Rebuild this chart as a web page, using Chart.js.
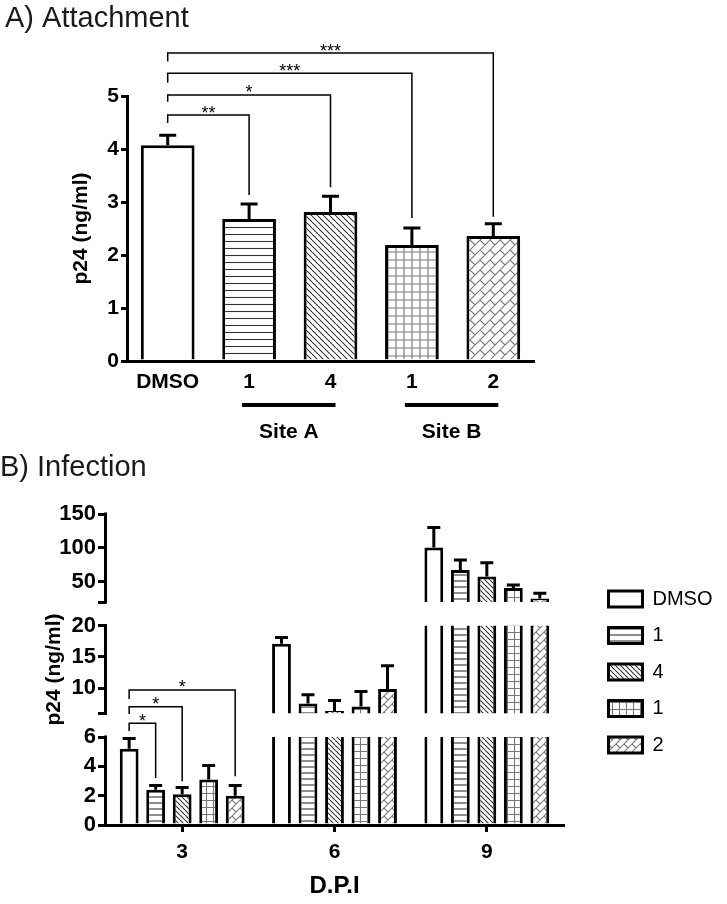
<!DOCTYPE html>
<html>
<head>
<meta charset="utf-8">
<script src="https://cdn.jsdelivr.net/npm/chart.js@4.4.0/dist/chart.umd.min.js"></script>
<style>
  html, body { margin: 0; padding: 0; background: #fff; }
  #caixaA { position: absolute; left: 0; top: 0; }
  #caixaB { position: absolute; left: 0; top: 440px; }
</style>
</head>
<body>
<div id="caixaA"><canvas id="graficoA" width="727" height="440"></canvas></div>
<div id="caixaB"><canvas id="graficoB" width="727" height="464"></canvas></div>
<script>
// dados do painel A (adesao)
const categoriasA = ['DMSO', '1', '4', '1', '2'];
const valoresA = [4.07, 2.68, 2.81, 2.19, 2.36];
const errosA = [0.19, 0.28, 0.30, 0.32, 0.23];
const ticksA = [0, 1, 2, 3, 4, 5];
const gruposA = [
  { texto: 'Site A', de: 1, ate: 2 },
  { texto: 'Site B', de: 3, ate: 4 }
];
// colchetes de significancia: nivel, inicio e fim em unidades do eixo y
const signifA = [
  { de: 0, ate: 1, rotulo: '**', inicio: 4.49, nivel: 4.64, fim: 3.13 },
  { de: 0, ate: 2, rotulo: '*', inicio: 4.89, nivel: 5.02, fim: 3.28 },
  { de: 0, ate: 3, rotulo: '***', inicio: 5.25, nivel: 5.43, fim: 2.70 },
  { de: 0, ate: 4, rotulo: '***', inicio: 5.65, nivel: 5.81, fim: 2.72 }
];

// dados do painel B (infeccao)
const diasB = ['3', '6', '9'];
const seriesB = ['DMSO', '1', '4', '1', '2'];
const dmsoB = [5.2, 17.1, 100.4];
const sitioA1B = [2.4, 7.6, 67.2];
const sitioA4B = [2.1, 6.4, 57.8];
const sitioB1B = [3.1, 7.1, 40.7];
const sitioB2B = [2.0, 9.9, 25.0];
const erroDmsoB = [0.7, 1.0, 29.5];
const erroSitioA1B = [0.3, 1.4, 14.7];
const erroSitioA4B = [0.45, 1.65, 20.2];
const erroSitioB1B = [0.95, 2.4, 4.4];
const erroSitioB2B = [0.7, 3.7, 7.8];
const ticksTopoB = [20, 50, 100, 150];
const ticksMeioB = [6, 10, 15, 20];
const ticksBaixoB = [0, 2, 4, 6];
const signifB = [
  { dia: 0, de: 0, ate: 1, rotulo: '*', inicio: 6.41, nivel: 6.94, fim: 3.21 },
  { dia: 0, de: 0, ate: 2, rotulo: '*', inicio: 7.56, nivel: 8.06, fim: 2.98 },
  { dia: 0, de: 0, ate: 4, rotulo: '*', inicio: 8.59, nivel: 9.21, fim: 3.32 }
];

const valoresB = [dmsoB, sitioA1B, sitioA4B, sitioB1B, sitioB2B];
const errosB = [erroDmsoB, erroSitioA1B, erroSitioA4B, erroSitioB1B, erroSitioB2B];

const fonte = "'Liberation Sans', Arial, Helvetica, sans-serif";
Chart.defaults.font.family = fonte;
Chart.defaults.color = '#000';

// eixo y quebrado em tres partes
const alturaSeg = 88, vao = 23.5;
const meiaFolga = (vao / 2) / alturaSeg;
const segmentosB = [
  { id: 'yTopo', min: 20, max: 150, ticks: ticksTopoB, semRotulo: 20 },
  { id: 'yMeio', min: 6, max: 20, ticks: ticksMeioB, semRotulo: 6 },
  { id: 'yBaixo', min: 0, max: 6, ticks: ticksBaixoB, semRotulo: null }
];

function criarPadrao(ctxAlvo, tipo, t, cor) {
  const c = document.createElement('canvas');
  c.width = t; c.height = t;
  const g = c.getContext('2d');
  g.fillStyle = '#fff';
  g.fillRect(0, 0, t, t);
  g.strokeStyle = cor;
  g.lineWidth = 1.1;
  g.beginPath();
  if (tipo === 'horizontal') {
    g.moveTo(0, t / 2); g.lineTo(t, t / 2);
  } else if (tipo === 'diagonal') {
    for (let k = -1; k <= 1; k++) { g.moveTo(k * t, 0); g.lineTo(k * t + t, t); }
  } else if (tipo === 'grade') {
    g.moveTo(0, t / 2); g.lineTo(t, t / 2);
    g.moveTo(t / 2, 0); g.lineTo(t / 2, t);
  } else if (tipo === 'tijolo') {
    g.save();
    g.rotate(-Math.PI / 4);
    const h = t / Math.SQRT2, l = 2 * h;
    for (let k = -4; k <= 4; k++) {
      g.moveTo(-4 * l, k * h); g.lineTo(4 * l, k * h);
      for (let j = -4; j <= 4; j++) {
        const u = j * l + (k % 2 ? l / 2 : 0);
        g.moveTo(u, k * h); g.lineTo(u, (k + 1) * h);
      }
    }
    g.restore();
  }
  g.stroke();
  return ctxAlvo.createPattern(c, 'repeat');
}

function desenharErro(ctx, x, y0, y1, cap) {
  ctx.beginPath();
  ctx.moveTo(x, y0); ctx.lineTo(x, y1);
  ctx.moveTo(x - cap / 2, y1); ctx.lineTo(x + cap / 2, y1);
  ctx.stroke();
}

function desenharColchete(ctx, xa, xb, yIni, yNiv, yFim, rotulo) {
  ctx.beginPath();
  ctx.moveTo(xa, yIni); ctx.lineTo(xa, yNiv); ctx.lineTo(xb, yNiv); ctx.lineTo(xb, yFim);
  ctx.stroke();
  ctx.fillText(rotulo, (xa + xb) / 2, yNiv + 3.5);
}

// ---------- painel A ----------
const ctxA = document.getElementById('graficoA').getContext('2d');
const padroesA = [
  '#fff',
  criarPadrao(ctxA, 'horizontal', 7, '#333'),
  criarPadrao(ctxA, 'diagonal', 6, '#333'),
  criarPadrao(ctxA, 'grade', 8, '#777'),
  criarPadrao(ctxA, 'tijolo', 10, '#777')
];

const extrasA = {
  id: 'extrasA',
  afterDatasetsDraw(chart) {
    const ctx = chart.ctx, y = chart.scales.y;
    ctx.save();
    ctx.strokeStyle = '#000';
    ctx.lineWidth = 3;
    chart.getDatasetMeta(0).data.forEach((barra, i) => {
      desenharErro(ctx, barra.x, y.getPixelForValue(valoresA[i]), y.getPixelForValue(valoresA[i] + errosA[i]), 17);
    });
    ctx.restore();
  },
  afterDraw(chart) {
    const ctx = chart.ctx, x = chart.scales.x, y = chart.scales.y;
    ctx.save();
    ctx.strokeStyle = '#000';
    ctx.fillStyle = '#000';
    ctx.lineWidth = 1.5;
    ctx.font = '18px ' + fonte;
    ctx.textAlign = 'center';
    ctx.textBaseline = 'alphabetic';
    signifA.forEach(s => {
      desenharColchete(ctx, x.getPixelForValue(s.de), x.getPixelForValue(s.ate),
        y.getPixelForValue(s.inicio), y.getPixelForValue(s.nivel), y.getPixelForValue(s.fim), s.rotulo);
    });
    // linhas dos grupos e nomes dos sitios
    const base = chart.chartArea.bottom;
    ctx.lineWidth = 4;
    ctx.font = 'bold 21px ' + fonte;
    ctx.textBaseline = 'middle';
    gruposA.forEach(g => {
      const xa = x.getPixelForValue(g.de) - 7, xb = x.getPixelForValue(g.ate) + 5;
      ctx.beginPath();
      ctx.moveTo(xa, base + 44); ctx.lineTo(xb, base + 44);
      ctx.stroke();
      ctx.fillText(g.texto, (xa + xb) / 2, base + 71);
    });
    ctx.restore();
  }
};

new Chart(ctxA, {
  type: 'bar',
  data: {
    labels: categoriasA,
    datasets: [{
      data: valoresA,
      backgroundColor: padroesA,
      borderColor: '#000',
      borderWidth: { top: 3, left: 3, right: 3, bottom: 0 },
      borderSkipped: false,
      barPercentage: 0.66,
      categoryPercentage: 1
    }]
  },
  options: {
    responsive: false,
    animation: false,
    events: [],
    layout: { padding: { left: 5, right: 193, top: 0, bottom: 0 } },
    plugins: {
      legend: { display: false },
      tooltip: { enabled: false },
      title: {
        display: true,
        text: 'A) Attachment',
        align: 'start',
        color: '#1a1a1a',
        font: { size: 29, weight: 'normal' },
        padding: { top: 2, bottom: 59.2 }
      }
    },
    scales: {
      x: {
        grid: { display: false, drawTicks: false },
        border: { display: true, color: '#000', width: 3 },
        ticks: { color: '#000', padding: 9, font: { size: 21, weight: 'bold' } },
        afterFit: (s) => { s.height = 79; }
      },
      y: {
        min: 0,
        max: 5,
        afterBuildTicks: (s) => { s.ticks = ticksA.map(v => ({ value: v })); },
        grid: { display: true, drawOnChartArea: false, drawTicks: true, tickLength: 6, lineWidth: 3, color: '#000' },
        border: { display: true, color: '#000', width: 3 },
        ticks: { color: '#000', padding: 2, font: { size: 21, weight: 'bold' } },
        title: {
          display: true,
          text: 'p24 (ng/ml)',
          color: '#000',
          font: { size: 21, weight: 'bold' },
          padding: { top: 64, bottom: 0 }
        },
        afterFit: (s) => { s.width = 122; }
      }
    }
  },
  plugins: [extrasA]
});

// ---------- painel B ----------
const ctxB = document.getElementById('graficoB').getContext('2d');
const padroesB = [
  '#fff',
  criarPadrao(ctxB, 'horizontal', 6, '#333'),
  criarPadrao(ctxB, 'diagonal', 5, '#333'),
  criarPadrao(ctxB, 'grade', 7, '#777'),
  criarPadrao(ctxB, 'tijolo', 8, '#777')
];

const conjuntosB = [];
segmentosB.forEach(seg => {
  valoresB.forEach((vals, s) => {
    conjuntosB.push({
      label: seriesB[s],
      data: vals.map(v => (v > seg.min ? [seg.min, Math.min(v, seg.max)] : null)),
      yAxisID: seg.id,
      stack: 'serie' + s,
      backgroundColor: padroesB[s],
      borderColor: '#000',
      borderWidth: (c) => ({ left: 3, right: 3, bottom: 0, top: vals[c.dataIndex] <= seg.max ? 3 : 0 }),
      borderSkipped: false,
      barPercentage: 0.71,
      categoryPercentage: 0.87
    });
  });
});

function segmentoDe(v) {
  return segmentosB.findIndex(seg => v > seg.min && v <= seg.max);
}

const extrasB = {
  id: 'extrasB',
  afterDatasetsDraw(chart) {
    const ctx = chart.ctx;
    ctx.save();
    ctx.strokeStyle = '#000';
    ctx.lineWidth = 3;
    valoresB.forEach((vals, s) => {
      vals.forEach((v, d) => {
        const iSeg = segmentoDe(v);
        const escala = chart.scales[segmentosB[iSeg].id];
        const barra = chart.getDatasetMeta(iSeg * seriesB.length + s).data[d];
        desenharErro(ctx, barra.x, escala.getPixelForValue(v), escala.getPixelForValue(v + errosB[s][d]), 13);
      });
    });
    ctx.restore();
  },
  afterDraw(chart) {
    const ctx = chart.ctx;
    ctx.save();
    ctx.strokeStyle = '#000';
    ctx.fillStyle = '#000';
    // linha do eixo y em pedacos
    ctx.lineWidth = 3;
    const xe = chart.chartArea.left - 0.5;
    segmentosB.forEach(seg => {
      const e = chart.scales[seg.id];
      ctx.beginPath();
      ctx.moveTo(xe, e.getPixelForValue(seg.min) + 1.5);
      ctx.lineTo(xe, e.getPixelForValue(seg.max) - 1.5);
      ctx.stroke();
    });
    // colchetes de significancia (unidades do segmento de baixo)
    const yb = chart.scales.yBaixo;
    ctx.lineWidth = 1.5;
    ctx.font = '18px ' + fonte;
    ctx.textAlign = 'center';
    ctx.textBaseline = 'alphabetic';
    signifB.forEach(s => {
      const xa = chart.getDatasetMeta(2 * seriesB.length + s.de).data[s.dia].x;
      const xb = chart.getDatasetMeta(2 * seriesB.length + s.ate).data[s.dia].x;
      desenharColchete(ctx, xa, xb, yb.getPixelForValue(s.inicio), yb.getPixelForValue(s.nivel), yb.getPixelForValue(s.fim), s.rotulo);
    });
    ctx.restore();
  }
};

function eixoSegmento(seg, peso, comTitulo) {
  const faixa = seg.max - seg.min;
  return {
    type: 'linear',
    position: 'left',
    stack: 'quebrado',
    stackWeight: peso,
    stacked: false,
    min: seg.min - (seg.min > 0 ? meiaFolga * faixa : 0),
    max: seg.max + (seg.max < 150 ? meiaFolga * faixa : 0),
    afterBuildTicks: (s) => { s.ticks = seg.ticks.map(v => ({ value: v })); },
    grid: { display: true, drawOnChartArea: false, drawTicks: true, tickLength: 8, lineWidth: 3, color: '#000' },
    border: { display: false },
    ticks: {
      color: '#000',
      padding: 2,
      autoSkip: false,
      font: { size: 22, weight: 'bold' },
      callback: (v) => (v === seg.semRotulo ? '' : v)
    },
    title: {
      display: comTitulo,
      text: 'p24 (ng/ml)',
      color: '#000',
      font: { size: 21, weight: 'bold' },
      padding: { top: 42, bottom: 0 }
    },
    afterFit: (s) => { s.width = 106; }
  };
}

new Chart(ctxB, {
  type: 'bar',
  data: { labels: diasB, datasets: conjuntosB },
  options: {
    responsive: false,
    animation: false,
    events: [],
    layout: { padding: { left: 0, right: 10, top: 0, bottom: 0 } },
    plugins: {
      tooltip: { enabled: false },
      title: {
        display: true,
        text: 'B) Infection',
        align: 'start',
        color: '#1a1a1a',
        font: { size: 29, weight: 'normal' },
        padding: { top: 11, bottom: 28.2 }
      },
      legend: {
        display: true,
        position: 'right',
        maxWidth: 125,
        onClick: null,
        labels: {
          boxWidth: 34,
          boxHeight: 16,
          padding: 16.5,
          color: '#000',
          font: { size: 20, weight: 'normal' },
          generateLabels: () => seriesB.map((nome, i) => ({
            text: nome,
            fillStyle: padroesB[i],
            strokeStyle: '#000',
            lineWidth: 3,
            hidden: false,
            datasetIndex: i
          }))
        }
      }
    },
    scales: {
      // a ordem aqui fica de baixo para cima na pilha
      yBaixo: eixoSegmento(segmentosB[2], alturaSeg + vao / 2, false),
      yMeio: eixoSegmento(segmentosB[1], alturaSeg + vao, true),
      yTopo: eixoSegmento(segmentosB[0], alturaSeg + vao / 2, false),
      x: {
        grid: { display: true, offset: false, drawOnChartArea: false, drawTicks: true, tickLength: 7, lineWidth: 3, color: '#000' },
        border: { display: true, color: '#000', width: 3 },
        ticks: { color: '#000', padding: 8, font: { size: 21, weight: 'bold' } },
        title: {
          display: true,
          text: 'D.P.I',
          color: '#000',
          font: { size: 24, weight: 'bold' },
          padding: { top: 0, bottom: 3.6 }
        },
        afterFit: (s) => { s.height = 79; }
      },
      folga: {
        type: 'linear',
        position: 'right',
        display: true,
        grid: { display: false },
        border: { display: false },
        ticks: { display: false },
        afterFit: (s) => { s.width = 29; }
      }
    }
  },
  plugins: [extrasB]
});
</script>
</body>
</html>
